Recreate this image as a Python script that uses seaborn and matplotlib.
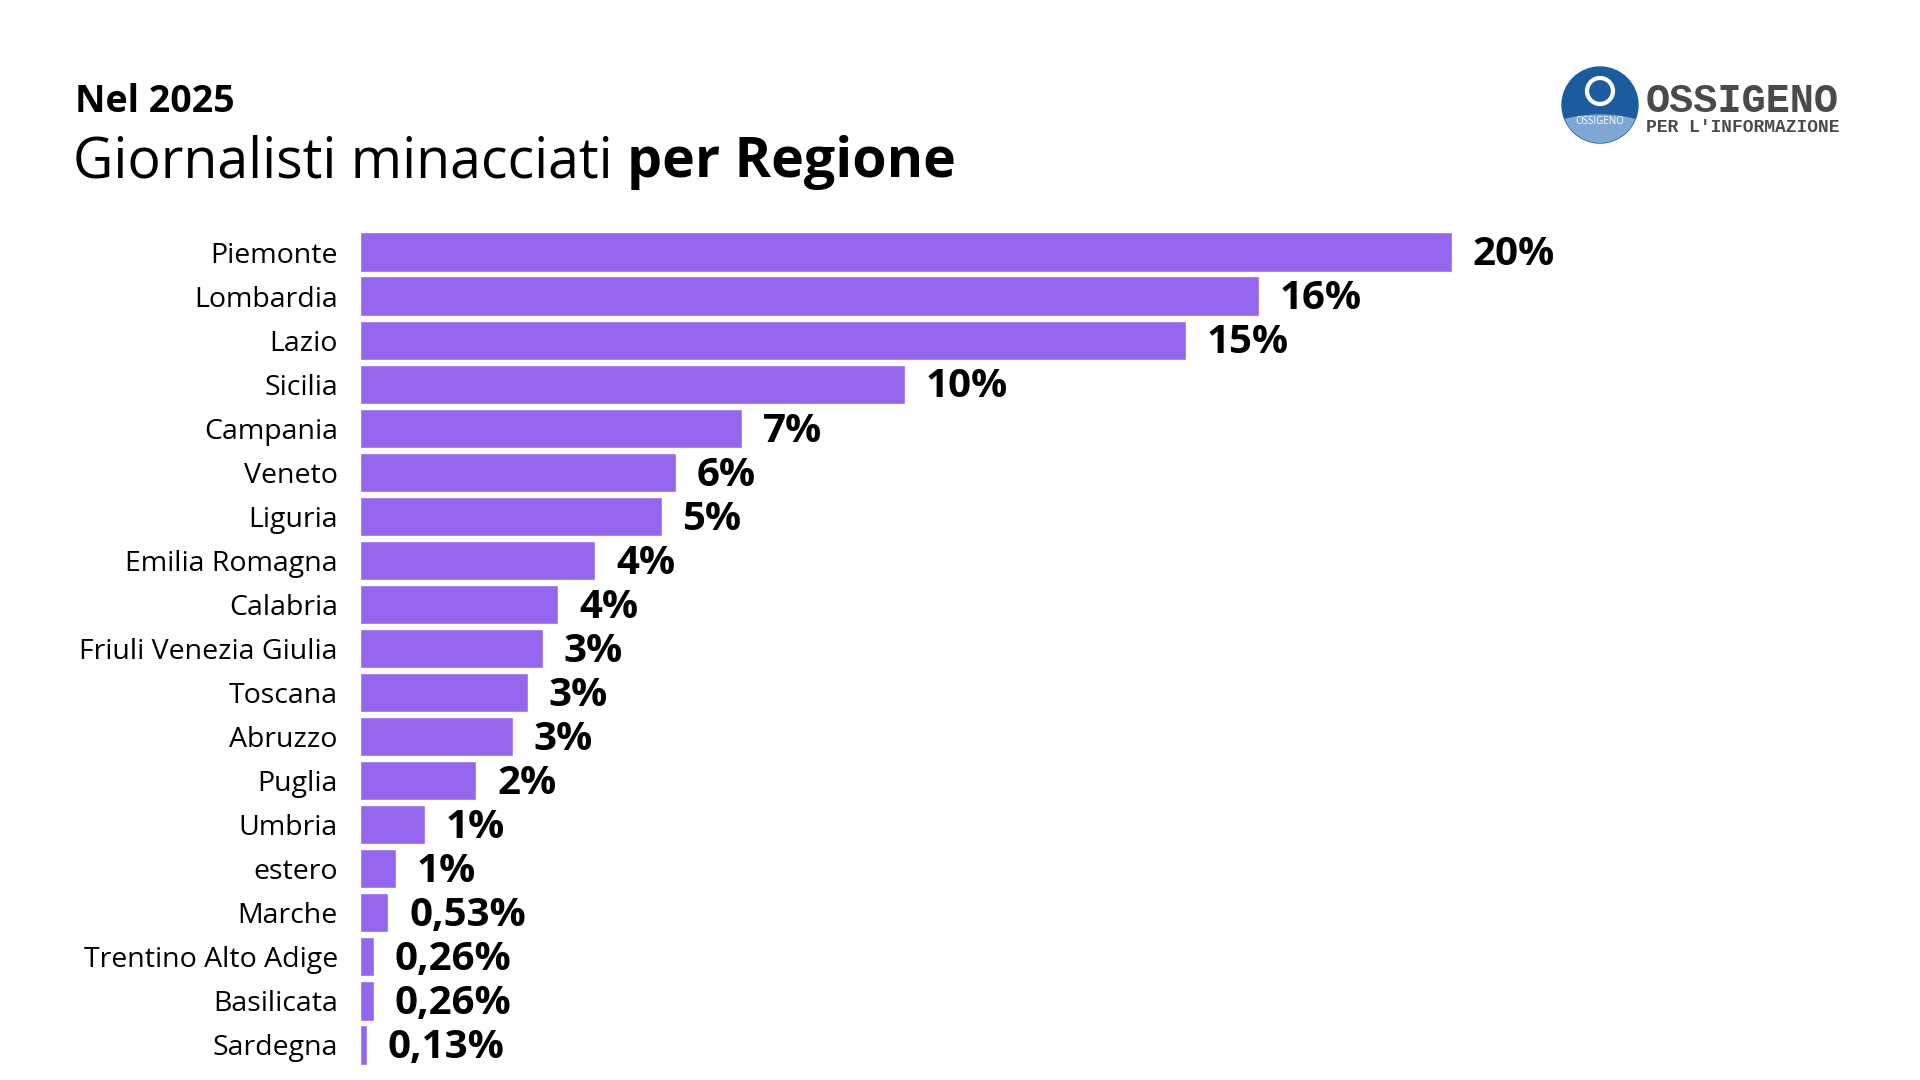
# Giornalisti minacciati per Regione - Ossigeno per l'informazione, 2025

import matplotlib.pyplot as plt
import seaborn as sns
from matplotlib.patches import Circle, Ellipse

regioni = [
    'Piemonte', 'Lombardia', 'Lazio', 'Sicilia', 'Campania', 'Veneto',
    'Liguria', 'Emilia Romagna', 'Calabria', 'Friuli Venezia Giulia',
    'Toscana', 'Abruzzo', 'Puglia', 'Umbria', 'estero', 'Marche',
    'Trentino Alto Adige', 'Basilicata', 'Sardegna',
]
percentuali = [
    20.48, 16.87, 15.49, 10.23, 7.17, 5.93, 5.66, 4.41, 3.72, 3.43,
    3.15, 2.87, 2.18, 1.22, 0.67, 0.53, 0.26, 0.26, 0.13,
]
etichette = [
    '20%', '16%', '15%', '10%', '7%', '6%', '5%', '4%', '4%', '3%',
    '3%', '3%', '2%', '1%', '1%', '0,53%', '0,26%', '0,26%', '0,13%',
]

VIOLA = '#9466ee'

sns.set_style('white')
plt.rcParams['font.family'] = ['Open Sans', 'DejaVu Sans']
plt.rcParams['text.color'] = 'black'
plt.rcParams['ytick.color'] = 'black'

fig = plt.figure(figsize=(19.2, 10.8), dpi=100)
ax = fig.add_axes([360 / 1920, 1 - 1067 / 1080, 1240 / 1920, 837 / 1080])

sns.barplot(x=percentuali, y=regioni, orient='h', color=VIOLA,
            saturation=1, width=0.89, ax=ax)

ax.set_xlim(0, 1240 / 53.3)
ax.set_ylim(18.5, -0.5)
sns.despine(ax=ax, left=True, bottom=True)
ax.set_xticks([])
ax.set_xlabel('')
ax.set_ylabel('')
ax.tick_params(axis='y', length=0, pad=16, labelsize=20.5, labelcolor='black')

for i, (v, t) in enumerate(zip(percentuali, etichette)):
    ax.annotate(t, xy=(v, i), xytext=(15, -2), textcoords='offset points',
                ha='left', va='center', fontsize=29, fontweight='bold',
                color='black')

# titoli
fig.text(75 / 1920, 1 - 112 / 1080, 'Nel 2025', fontsize=27,
         fontweight='bold', ha='left', va='baseline')
t1 = fig.text(73 / 1920, 1 - 177 / 1080, 'Giornalisti minacciati ',
              fontsize=40, ha='left', va='baseline')
fig.canvas.draw()
bb = t1.get_window_extent()
fig.text(bb.x1 / 1920, 1 - 177 / 1080, 'per Regione', fontsize=40,
         fontweight='bold', ha='left', va='baseline')

# logo
lax = fig.add_axes([1545 / 1920, 1 - 160 / 1080, 110 / 1920, 110 / 1080])
lax.set_xlim(-55, 55)
lax.set_ylim(-55, 55)
lax.set_aspect('equal')
lax.axis('off')
disco = Circle((0, 0), 38, color='#1a5c9e')
lax.add_patch(disco)
fondo = Ellipse((0, -75), 190, 130, color='#7ea7d2')
lax.add_patch(fondo)
fondo.set_clip_path(disco)
lax.add_patch(Circle((0, 14), 13, fill=False, ec='white', lw=3))
lax.text(0, -17, 'OSSIGENO', color='white', fontsize=7, ha='center',
         va='center')
fig.text(1646 / 1920, 1 - 112 / 1080, 'OSSIGENO', fontsize=29,
         family='Liberation Mono', fontweight='bold', color='#4a4a4a',
         ha='left', va='baseline')
fig.text(1646 / 1920, 1 - 132 / 1080, "PER L'INFORMAZIONE", fontsize=13,
         family='Liberation Mono', fontweight='bold', color='#4a4a4a',
         ha='left', va='baseline')

fig.savefig('out.png', dpi=100, facecolor='white')
